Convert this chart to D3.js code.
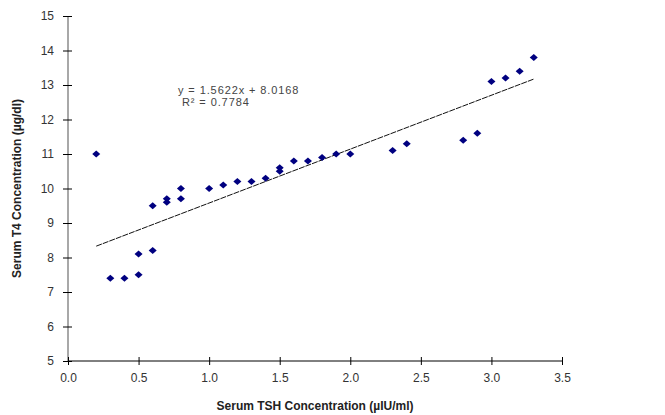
<!DOCTYPE html>
<html>
<head>
<meta charset="utf-8">
<script src="https://cdn.jsdelivr.net/npm/d3@7"></script>
<style>
  body { margin: 0; background: #fff; }
  text { font-family: "Liberation Sans", Arial, sans-serif; }
</style>
</head>
<body>
<div id="chart"></div>
<script>
// TSH vs T4 data
var tshValues = [0.2, 0.3, 0.4, 0.5, 0.5, 0.6, 0.6, 0.7, 0.7, 0.8, 0.8, 1.0, 1.1, 1.2, 1.3, 1.4, 1.5, 1.5, 1.6, 1.7, 1.8, 1.9, 2.0, 2.3, 2.4, 2.8, 2.9, 3.0, 3.1, 3.2, 3.3];
var t4Values  = [11.0, 7.4, 7.4, 7.5, 8.1, 8.2, 9.5, 9.6, 9.7, 9.7, 10.0, 10.0, 10.1, 10.2, 10.2, 10.3, 10.5, 10.6, 10.8, 10.8, 10.9, 11.0, 11.0, 11.1, 11.3, 11.4, 11.6, 13.1, 13.2, 13.4, 13.8];
var xTicks = [0, 0.5, 1.0, 1.5, 2.0, 2.5, 3.0, 3.5];
var yTicks = [5, 6, 7, 8, 9, 10, 11, 12, 13, 14, 15];
var slope = 1.5622, intercept = 8.0168;
var eqLabel = "y = 1.5622x + 8.0168";
var r2Label = "R\u00B2 = 0.7784";

var width = 665, height = 415;
var margin = {top: 16, right: 103, bottom: 54, left: 68};
var innerWidth = width - margin.left - margin.right;
var innerHeight = height - margin.top - margin.bottom;

var data = tshValues.map((d, i) => ({x: d, y: t4Values[i]}));

var xScale = d3.scaleLinear().domain([0, 3.5]).range([0, innerWidth]);
var yScale = d3.scaleLinear().domain([5, 15]).range([innerHeight, 0]);

var svg = d3.select("#chart").append("svg")
    .attr("width", width)
    .attr("height", height);

var g = svg.append("g")
    .attr("transform", "translate(" + margin.left + "," + margin.top + ")");

// y axis (grey line, ticks crossing)
var yAxis = g.append("g")
    .call(d3.axisLeft(yScale).tickValues(yTicks).tickFormat(d3.format("d")).tickSize(5).tickPadding(9));
yAxis.select(".domain").attr("stroke", "#a8a8a8").attr("stroke-width", 2).attr("d", "M0," + innerHeight + "V0");
yAxis.selectAll(".tick line").attr("x2", -5).attr("x1", 4).attr("stroke", "#000");
yAxis.selectAll("text").attr("font-size", 12).attr("fill", "#333");

// x axis
var xAxis = g.append("g")
    .attr("transform", "translate(0," + innerHeight + ")")
    .call(d3.axisBottom(xScale).tickValues(xTicks).tickFormat(d3.format(".1f")).tickSize(4).tickPadding(8));
xAxis.select(".domain").attr("stroke", "#000").attr("d", "M0,0H" + innerWidth);
xAxis.selectAll(".tick line").attr("y1", -4).attr("y2", 4).attr("stroke", "#000");
xAxis.selectAll("text").attr("font-size", 12).attr("fill", "#333");

// trend line
var xMin = d3.min(tshValues), xMax = d3.max(tshValues);
var line = d3.line().x(d => xScale(d)).y(d => yScale(slope * d + intercept));
g.append("path")
    .attr("d", line([xMin, xMax]))
    .attr("fill", "none")
    .attr("stroke", "#111")
    .attr("stroke-width", 1)
    .attr("stroke-dasharray", "6,1");

// points (squat diamonds like Excel markers)
g.append("g").selectAll("path")
    .data(data)
    .enter()
    .append("path")
    .attr("d", "M0,-3.5L4,0L0,3.5L-4,0Z")
    .attr("transform", d => "translate(" + xScale(d.x) + "," + yScale(d.y) + ")")
    .attr("fill", "#000080");

// equation
g.append("text")
    .attr("x", 110).attr("y", 78)
    .attr("font-size", 11).attr("letter-spacing", 0.9).attr("fill", "#444")
    .text(eqLabel);
g.append("text")
    .attr("x", 114).attr("y", 90)
    .attr("font-size", 11).attr("letter-spacing", 0.9).attr("fill", "#444")
    .text(r2Label);

// axis titles
svg.append("text")
    .attr("x", 315).attr("y", 410)
    .attr("text-anchor", "middle")
    .attr("font-size", 12).attr("font-weight", "bold").attr("fill", "#222")
    .text("Serum TSH Concentration (\u00B5IU/ml)");
svg.append("text")
    .attr("transform", "translate(21," + (margin.top + innerHeight / 2) + ") rotate(-90)")
    .attr("text-anchor", "middle")
    .attr("font-size", 12).attr("font-weight", "bold").attr("fill", "#222")
    .text("Serum T4 Concentration (\u00B5g/dl)");
</script>
</body>
</html>
